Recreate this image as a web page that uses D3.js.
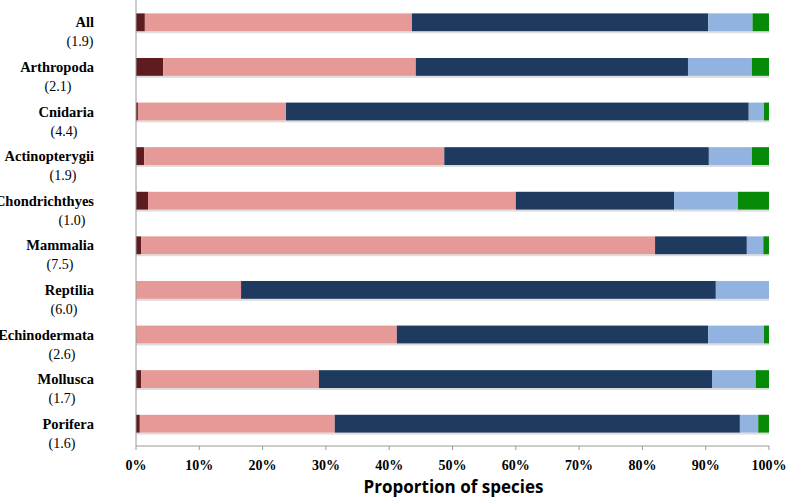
<!DOCTYPE html>
<html><head><meta charset="utf-8">
<script src="https://cdn.jsdelivr.net/npm/d3@7"></script>
<style>body{margin:0;background:#fff}</style>
</head><body>
<svg id="chart"></svg>
<script>
const groups = ["All","Arthropoda","Cnidaria","Actinopterygii","Chondrichthyes","Mammalia","Reptilia","Echinodermata","Mollusca","Porifera"];
const subLabels = ["(1.9)","(2.1)","(4.4)","(1.9)","(1.0)","(7.5)","(6.0)","(2.6)","(1.7)","(1.6)"];
// percentages per category, stacked left to right
const dark  = [1.4, 4.3, 0.3, 1.3, 1.9, 0.8, 0,   0,    0.8, 0.6];
const pink  = [42.2,39.9,23.4,47.4,58.1,81.2,16.6,41.2,28.1,30.8];
const navy  = [46.8,43.0,73.1,41.8,25.0,14.5,75.0,49.2,62.1,64.0];
const light = [7.0, 10.1,2.4, 6.8, 10.1,2.6, 8.4, 8.8, 6.9, 2.9];
const green = [2.6, 2.7, 0.8, 2.7, 4.9, 0.9, 0,   0.8, 2.1, 1.7];
const seriesColors = ["#5e1c1e","#e59a98","#1f3a5f","#92b3e0","#078a07"];
const xTicks = [0,10,20,30,40,50,60,70,80,90,100];
const subX = [-56,-78,-72,-73,-64,-76,-72,-74,-74,-74];

const W = 787, H = 498;
const margin = {top: 0, right: 18, bottom: 52, left: 136};
const svg = d3.select("#chart").attr("width", W).attr("height", H);
const g = svg.append("g").attr("transform", `translate(${margin.left},${margin.top})`);
const width = W - margin.left - margin.right, height = H - margin.top - margin.bottom;

const x = d3.scaleLinear().domain([0,100]).range([0, width]);
const y = d3.scaleBand().domain(groups).range([0, height]).paddingInner(0.6).paddingOuter(0.3);

const rows = groups.map((name,i) => ({name, dark: dark[i], pink: pink[i], navy: navy[i], light: light[i], green: green[i]}));
const stack = d3.stack().keys(["dark","pink","navy","light","green"])(rows);

// faint shadow under each bar
g.selectAll("rect.shadow").data(groups).join("rect")
  .attr("x", 0).attr("y", d => y(d) + y.bandwidth())
  .attr("width", x(100)).attr("height", 2).attr("fill", "#ddd");

g.selectAll("g.layer").data(stack).join("g")
  .attr("fill", (d,i) => seriesColors[i])
  .selectAll("rect").data(d => d).join("rect")
  .attr("x", d => x(d[0])).attr("y", d => y(d.data.name))
  .attr("width", d => x(d[1]) - x(d[0])).attr("height", y.bandwidth());

// axis lines
g.append("line").attr("x1",0).attr("x2",0).attr("y1",0).attr("y2",height).attr("stroke","#999");
g.append("line").attr("x1",0).attr("x2",width).attr("y1",height).attr("y2",height).attr("stroke","#999");

// x ticks
g.selectAll("text.xt").data(xTicks).join("text")
  .attr("x", d => x(d)).attr("y", height + 24).attr("text-anchor","middle")
  .style("font-family","Liberation Serif, serif").style("font-weight","bold").style("font-size","14px")
  .text(d => d + "%");
g.selectAll("line.xtick").data(xTicks).join("line")
  .attr("x1", d => x(d)).attr("x2", d => x(d)).attr("y1", height).attr("y2", height+4).attr("stroke","#999");

// category labels
g.selectAll("text.cat").data(groups).join("text")
  .attr("x", -42).attr("y", d => y(d) + y.bandwidth()/2 + 5).attr("text-anchor","end")
  .style("font-family","Liberation Serif, serif").style("font-weight","bold").style("font-size","14.5px")
  .text(d => d);
g.selectAll("text.sub").data(groups).join("text")
  .attr("x", (d,i) => subX[i]).attr("y", d => y(d) + y.bandwidth()/2 + 24).attr("text-anchor","middle")
  .style("font-family","Liberation Serif, serif").style("font-size","14px")
  .text((d,i) => subLabels[i]);

svg.append("text").attr("x", margin.left + width/2 + 1).attr("y", 493).attr("text-anchor","middle")
  .style("font-family","Open Sans, sans-serif").style("font-weight","bold").style("font-size","17px")
  .text("Proportion of species");
</script>
</body></html>
